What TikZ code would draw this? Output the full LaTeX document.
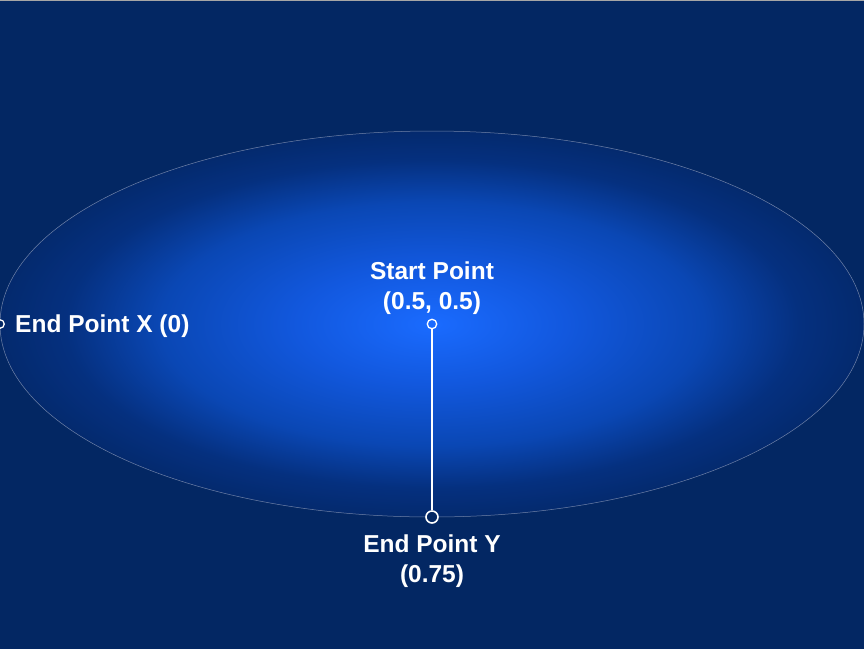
\documentclass[tikz,border=0pt]{standalone}
\usepackage{fontspec}
\setmainfont{Liberation Sans}
\definecolor{bgblue}{HTML}{032763}
\definecolor{ctrblue}{HTML}{1A6BFF}
\definecolor{blueA}{HTML}{1258DE}
\definecolor{blueB}{HTML}{0A47B4}
\definecolor{blueC}{HTML}{05307F}
\definecolor{edgeblue}{HTML}{042A6E}
\definecolor{rimgray}{HTML}{8A98B8}
\pgfdeclareradialshading{glow}{\pgfpoint{0bp}{0bp}}{%
  color(0bp)=(ctrblue); color(7.75bp)=(blueA); color(15.75bp)=(blueB); color(21.25bp)=(blueC); color(25bp)=(edgeblue); color(50bp)=(edgeblue)}
\begin{document}
\begin{tikzpicture}[x=1pt,y=-1pt,
  lbl/.style={text=white,font=\fontsize{24.5}{30}\selectfont\bfseries,align=center,inner sep=0pt},
  dotsmall/.style={circle,draw=white,line width=1.3pt,fill=ctrblue,minimum size=9.5pt,inner sep=0pt},
  dotbig/.style={circle,draw=white,line width=1.6pt,fill=bgblue,minimum size=12pt,inner sep=0pt},
  link/.style={draw=white,line width=1.6pt}]
\fill[bgblue] (0,0) rectangle (864,649);
\useasboundingbox (0,0) rectangle (864,649);
\draw[gray!70,line width=0.8pt] (0,0.4) -- (864,0.4);
\shade[shading=glow] (432,324) ellipse [x radius=432, y radius=193];
\draw[rimgray,line width=0.5pt,opacity=0.8] (432,324) ellipse [x radius=432, y radius=193];
\node[dotsmall] (start) at (432,324) {};
\node[dotbig] (endy) at (432,517) {};
\node[dotsmall,fill=bgblue,minimum size=8.5pt] (endx) at (0,324) {};
\draw[link] (start) -- (endy);
\node[lbl,anchor=south] (startlbl) at (432,315) {Start Point\\(0.5, 0.5)};
\node[lbl,anchor=north] (endylbl) at (432,535) {End Point Y\\(0.75)};
\node[lbl,anchor=west] (endxlbl) at (15,326) {End Point X (0)};
\end{tikzpicture}
\end{document}
